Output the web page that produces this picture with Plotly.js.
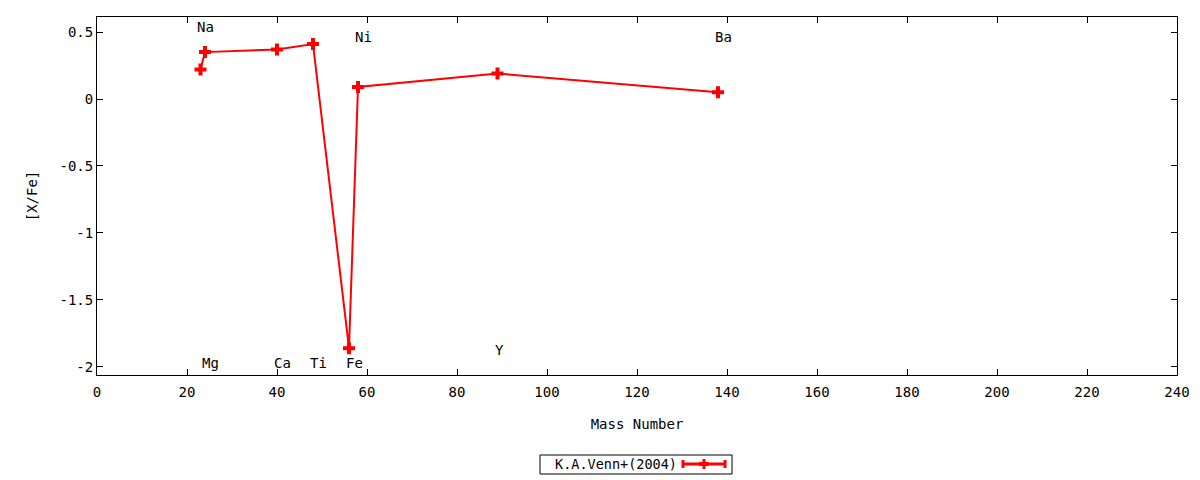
<!DOCTYPE html>
<html>
<head>
<meta charset="utf-8">
<script src="https://cdn.plot.ly/plotly-3.0.1.min.js"></script>
<style>html,body{margin:0;padding:0;background:#fff;}#chart{width:1200px;height:480px;}</style>
</head>
<body>
<div id="chart"></div>
<script>
// Data
const elements = ["Na", "Mg", "Ca", "Ti", "Fe", "Ni", "Y", "Ba"];
const massNumber = [23, 24, 40, 48, 56, 58, 89, 138];
const xFe = [0.22, 0.35, 0.37, 0.41, -1.86, 0.09, 0.19, 0.05];
const labelY = [0.54, -1.97, -1.97, -1.97, -1.97, 0.46, -1.87, 0.46];
const seriesName = "K.A.Venn+(2004)";
const xTicks = [0, 20, 40, 60, 80, 100, 120, 140, 160, 180, 200, 220, 240];
const yTicks = [-2, -1.5, -1, -0.5, 0, 0.5];

const FONT = "DejaVu Sans Mono, monospace";
const RED = "#ff0000";

const trace = {
  x: massNumber,
  y: xFe,
  type: "scatter",
  mode: "lines+markers",
  name: seriesName,
  line: {color: RED, width: 2},
  marker: {symbol: "cross", size: 10, color: RED},
  showlegend: false,
  cliponaxis: false
};

const labelAnnotations = elements.map((el, i) => ({
  x: massNumber[i], y: labelY[i], xref: "x", yref: "y",
  text: el, showarrow: false, xshift: (el === "Y" ? 2 : 5),
  font: {family: FONT, size: 14, color: "#000"}
}));

// custom legend (gnuplot style: text left, sample right)
const L = {x0: 0.4102, x1: 0.588, y0: -0.2235, y1: -0.2765, ym: -0.2486, lx0: 0.5426, lx1: 0.5815, mx: 0.562};
const legendText = {
  x: 0.4222, y: L.ym, xref: "paper", yref: "paper", xanchor: "left", yanchor: "middle",
  text: seriesName, showarrow: false, font: {family: FONT, size: 13.5, color: "#000"}
};
const cap = 0.011, mcap = 0.014, mw = 0.0045;
const shapes = [
  {type: "rect", xref: "paper", yref: "paper", x0: L.x0, x1: L.x1, y0: L.y0, y1: L.y1, line: {color: "#000", width: 1}},
  {type: "line", xref: "paper", yref: "paper", x0: L.lx0, x1: L.lx1, y0: L.ym, y1: L.ym, line: {color: RED, width: 3}},
  {type: "line", xref: "paper", yref: "paper", x0: L.lx0, x1: L.lx0, y0: L.ym - cap, y1: L.ym + cap, line: {color: RED, width: 3}},
  {type: "line", xref: "paper", yref: "paper", x0: L.lx1, x1: L.lx1, y0: L.ym - cap, y1: L.ym + cap, line: {color: RED, width: 3}},
  {type: "line", xref: "paper", yref: "paper", x0: L.mx, x1: L.mx, y0: L.ym - mcap, y1: L.ym + mcap, line: {color: RED, width: 3}},
  {type: "line", xref: "paper", yref: "paper", x0: L.mx - mw, x1: L.mx + mw, y0: L.ym, y1: L.ym, line: {color: RED, width: 4}}
];

const layout = {
  width: 1200, height: 480,
  margin: {l: 97, r: 23, t: 17, b: 105},
  paper_bgcolor: "#fff", plot_bgcolor: "#fff",
  font: {family: FONT, size: 14, color: "#000"},
  showlegend: false,
  xaxis: {
    range: [0, 240], tickvals: xTicks, ticktext: xTicks.map(String),
    ticks: "inside", ticklen: 6, tickcolor: "#000", mirror: "ticks",
    showline: true, linecolor: "#000", linewidth: 1, showgrid: false, zeroline: false,
    tickfont: {family: FONT, size: 14}, ticklabelstandoff: 4,
    title: {text: "Mass Number", font: {family: FONT, size: 14}, standoff: 20}
  },
  yaxis: {
    range: [-2.06, 0.612], tickvals: yTicks, ticktext: yTicks.map(String),
    ticks: "inside", ticklen: 6, tickcolor: "#000", mirror: "ticks",
    showline: true, linecolor: "#000", linewidth: 1, showgrid: false, zeroline: false,
    tickfont: {family: FONT, size: 14},
    title: {text: "[X/Fe]", font: {family: FONT, size: 14}, standoff: 18}
  },
  annotations: labelAnnotations.concat([legendText]),
  shapes: shapes
};

Plotly.newPlot("chart", [trace], layout, {staticPlot: true, displayModeBar: false});
</script>
</body>
</html>
